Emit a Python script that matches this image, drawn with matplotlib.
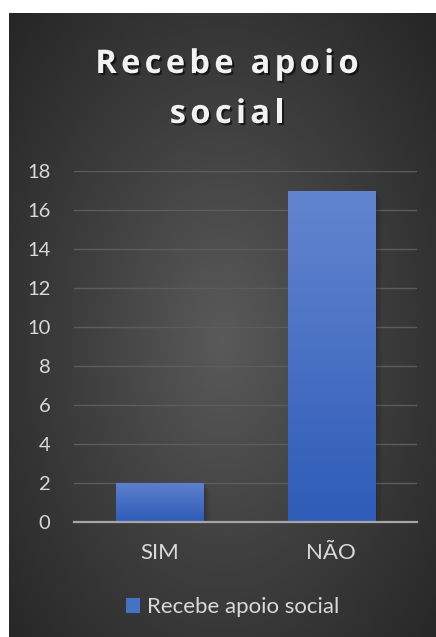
import numpy as np
import matplotlib.pyplot as plt
from matplotlib.colors import LinearSegmentedColormap
from matplotlib.font_manager import FontProperties
import matplotlib.patheffects as pe

categories = ['SIM', 'NÃO']
values = [2, 17]
series_name = 'Recebe apoio social'
title_lines = ['Recebe apoio', 'social']
y_ticks = [0, 2, 4, 6, 8, 10, 12, 14, 16, 18]

W, H = 436, 637
fig = plt.figure(figsize=(W / 100, H / 100), dpi=100)
fig.patch.set_facecolor('white')

# dark radial background (chart area)
bg = fig.add_axes([9 / W, 0, 1 - 9 / W, 1 - 13 / H])
bg.set_axis_off()
yy, xx = np.mgrid[0:1:400j, 0:1:300j]
r = np.sqrt(((xx - 0.5) * 1.1) ** 2 + ((yy - 0.52) * 1.0) ** 2)
bg_cmap = LinearSegmentedColormap.from_list('bg', ['#5a5a5a', '#3e3e3e', '#262626'])
bg.imshow(r, cmap=bg_cmap, aspect='auto', extent=[0, 1, 0, 1], vmin=0, vmax=0.75)

ax = fig.add_axes([74 / W, 1 - 522 / H, (417 - 74) / W, (522 - 171) / H])
ax.set_facecolor('none')
x = np.arange(len(categories))
bars = ax.bar(x, values, width=0.51, color='#4472c4', zorder=3)

# gradient fill + soft shadow on each bar
grad = np.linspace(0, 1, 100).reshape(-1, 1)
bar_cmap = LinearSegmentedColormap.from_list('bar', ['#2e5cb8', '#6385cf'])
for b in bars:
    x0, w, h = b.get_x(), b.get_width(), b.get_height()
    for k, a in enumerate([0.10, 0.07, 0.04]):
        d = 0.012 * (k + 1)
        ax.add_patch(plt.Rectangle((x0 + d, 0), w + d * 0.2, h - d * 10, color='black',
                                   alpha=a, zorder=2, lw=0))
    im = ax.imshow(grad, cmap=bar_cmap, extent=[x0, x0 + w, 0, h], aspect='auto',
                   origin='lower', zorder=4, vmin=0, vmax=1.15 if h < 5 else 1)
    im.set_clip_path(b)

ax.set_xlim(-0.5, 1.5)
ax.set_ylim(0, 18)
ax.set_yticks(y_ticks)
ax.set_xticks(x)
ax.set_xticklabels(categories)
ax.grid(axis='y', color='#5c5c5c', lw=1, zorder=1)
for s in ['top', 'right', 'left']:
    ax.spines[s].set_visible(False)
ax.spines['bottom'].set_color('#a6a6a6')
ax.spines['bottom'].set_linewidth(1.6)
ax.spines['bottom'].set_zorder(5)
ax.tick_params(length=0, labelcolor='#d9d9d9')
ax.tick_params(axis='x', pad=15, labelsize=16)
ax.tick_params(axis='y', pad=17, labelsize=14.5)
for lab in ax.get_xticklabels() + ax.get_yticklabels():
    lab.set_family('Lato')

# legend
leg = fig.legend([bars[0]], [series_name], loc='center', bbox_to_anchor=(0.533, 1 - 607 / H),
                 frameon=False, handlelength=0.65, handleheight=0.65, handletextpad=0.3,
                 prop={'family': 'Lato', 'size': 16})
for t in leg.get_texts():
    t.set_color('#d9d9d9')

# title with letter spacing
renderer = fig.canvas.get_renderer()
tprop = FontProperties(family='Open Sans', weight='bold', size=23.5)
track = 4.3
shadow = [pe.withSimplePatchShadow(offset=(1.5, -1.5), shadow_rgbFace='black', alpha=0.6)]


def wid(s):
    if not s:
        return 0.0
    return renderer.get_text_width_height_descent(s, tprop, ismath=False)[0]


for line, base in zip(title_lines, [73, 123]):
    total = wid(line) + track * (len(line) - 1)
    start = 227 - total / 2
    for i, ch in enumerate(line):
        if ch == ' ':
            continue
        px = start + wid(line[:i]) + track * i
        fig.text(px / W, 1 - base / H, ch, fontproperties=tprop, color='#f2f2f2',
                 ha='left', va='baseline', path_effects=shadow)

fig.savefig('out.png', dpi=100)
